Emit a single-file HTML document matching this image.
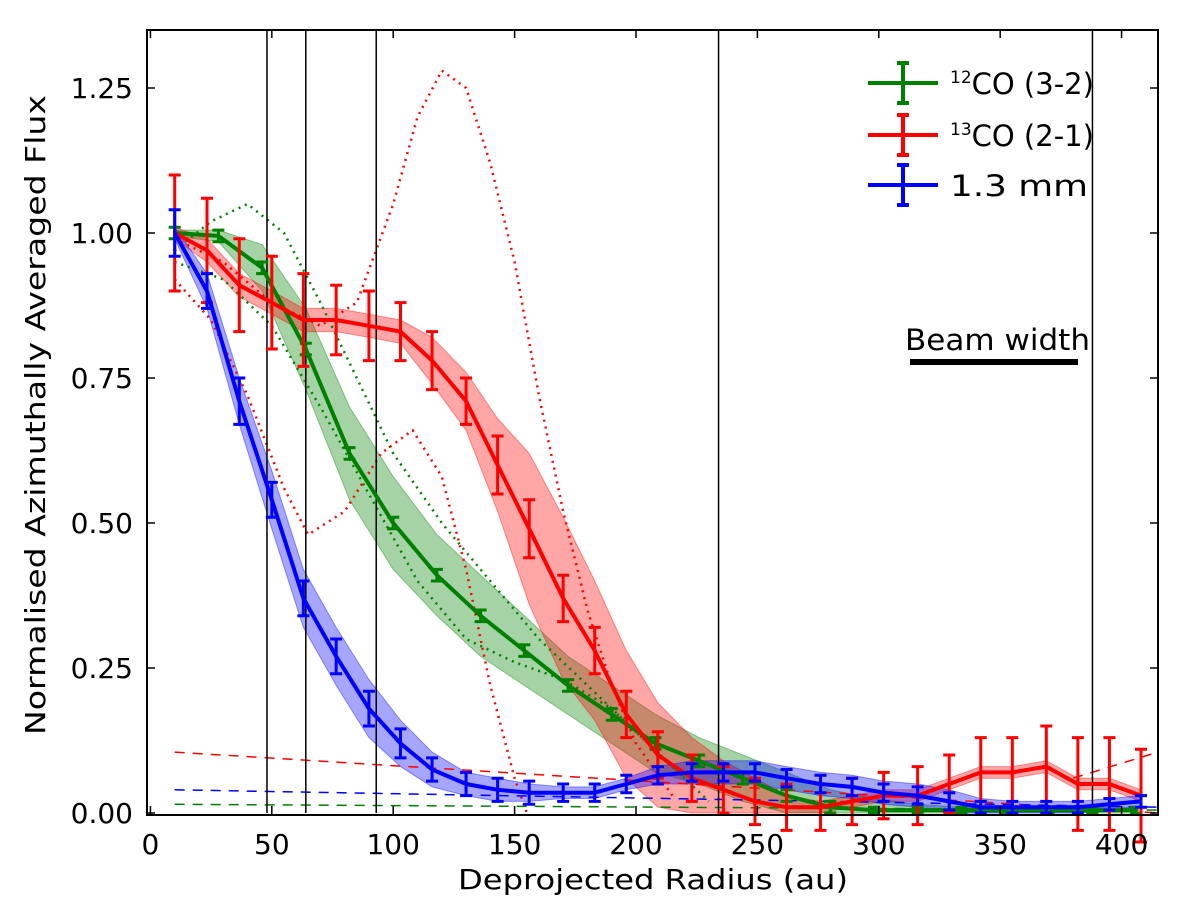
<!DOCTYPE html>
<html><head><meta charset="utf-8"><style>
body{margin:0;background:#fff;}
svg text{font-family:"DejaVu Sans","Liberation Sans",sans-serif;}
</style></head><body>
<svg id="chart" width="1200" height="910" xmlns="http://www.w3.org/2000/svg">
<g id="bands"></g><g id="guides"></g><g id="lines"></g><g id="axes"></g>
</svg>
<script>
const xTicks=[0,50,100,150,200,250,300,350,400];
const yTicks=[0,0.25,0.5,0.75,1.0,1.25];
const yTickLabels=["0.00","0.25","0.50","0.75","1.00","1.25"];
const vlines=[48,64,93,234,388];
const rR=[10,23.3,36.6,50,63,76.5,90,103,116,130,143,156,170,183,196,209,223,236,249,262,276,289,302,316,329,342,355,369,382,395,408];
const redV=[1.0,0.97,0.91,0.88,0.85,0.85,0.84,0.83,0.78,0.71,0.60,0.49,0.37,0.28,0.17,0.10,0.06,0.04,0.02,0.01,0.01,0.02,0.03,0.03,0.05,0.07,0.07,0.08,0.05,0.05,0.03];
const redE=[0.10,0.09,0.08,0.08,0.08,0.06,0.06,0.05,0.05,0.04,0.05,0.05,0.04,0.04,0.04,0.04,0.04,0.04,0.04,0.04,0.04,0.04,0.04,0.05,0.05,0.06,0.06,0.07,0.08,0.08,0.08];
const redB=[0.01,0.02,0.02,0.02,0.02,0.02,0.02,0.02,0.04,0.05,0.08,0.13,0.14,0.12,0.11,0.09,0.07,0.05,0.04,0.02,0.01,0.01,0.01,0.01,0.01,0.01,0.01,0.01,0.01,0.01,0.01];
const blueV=[1.0,0.90,0.71,0.54,0.37,0.27,0.18,0.12,0.075,0.05,0.04,0.035,0.035,0.035,0.05,0.065,0.07,0.07,0.07,0.06,0.05,0.045,0.035,0.03,0.02,0.01,0.01,0.01,0.01,0.015,0.02];
const blueE=[0.04,0.03,0.04,0.03,0.03,0.03,0.03,0.025,0.02,0.02,0.02,0.02,0.015,0.015,0.015,0.015,0.015,0.015,0.015,0.015,0.015,0.015,0.015,0.015,0.015,0.01,0.01,0.01,0.01,0.01,0.01];
const blueB=[0.01,0.03,0.04,0.05,0.05,0.05,0.05,0.04,0.03,0.02,0.02,0.015,0.01,0.01,0.01,0.015,0.02,0.02,0.02,0.02,0.02,0.02,0.02,0.02,0.02,0.015,0.01,0.01,0.01,0.01,0.01];
const rG=[10,28,46,64,82,100,118,136,154,172,190,208,226,244,262,280,298,316,334,352,370,388,406];
const greenV=[1.0,0.995,0.94,0.80,0.62,0.50,0.41,0.34,0.28,0.22,0.17,0.12,0.09,0.06,0.03,0.01,0.005,0.005,0.005,0.005,0.005,0.005,0.005];
const greenE=[0.01,0.01,0.01,0.01,0.01,0.01,0.01,0.01,0.01,0.01,0.01,0.01,0.01,0.01,0.01,0.01,0.005,0.005,0.005,0.005,0.005,0.005,0.005];
const greenB=[0.005,0.01,0.04,0.07,0.08,0.08,0.07,0.07,0.06,0.05,0.05,0.05,0.04,0.04,0.04,0.03,0.02,0.01,0.005,0.005,0.005,0.005,0.005];
const gDotUpR=[10,25,40,55,70,85,100,120,140,160,180,200,220];
const gDotUpV=[0.97,1.02,1.05,1.0,0.88,0.75,0.62,0.50,0.40,0.30,0.22,0.14,0.06];
const gDotLoR=[10,30,50,70,90,110,130,150,170,190,210,230];
const gDotLoV=[0.95,0.92,0.84,0.70,0.55,0.40,0.30,0.26,0.23,0.18,0.10,0.02];
const rDotUpR=[10,30,50,70,85,100,110,120,130,140,150,160,170,180,190,200,215];
const rDotUpV=[0.99,0.95,0.88,0.84,0.88,1.05,1.20,1.28,1.25,1.12,0.95,0.72,0.52,0.35,0.22,0.12,0.03];
const rDotLoR=[10,25,40,55,65,80,95,108,120,130,140,150,155];
const rDotLoV=[0.92,0.85,0.72,0.56,0.48,0.52,0.62,0.66,0.58,0.42,0.22,0.06,0.0];
const dashR=[10,415];
const redDashV=[0.105,0.0];
const blueDashV=[0.04,0.01];
const greenDashV=[0.015,0.005];
const redDash2R=[380,415];const redDash2V=[0.06,0.105];

const X0=148,X1=1158,Y0=813,Y1=30,XMIN=-1,XMAX=415,YMAX=1.35;
const sx=r=>X0+(r-XMIN)/(XMAX-XMIN)*(X1-X0);
const sy=v=>Y0-v/YMAX*(Y0-Y1);
const NS="http://www.w3.org/2000/svg";
function mk(parent,tag,attrs){const e=document.createElementNS(NS,tag);for(const k in attrs)e.setAttribute(k,attrs[k]);document.getElementById(parent).appendChild(e);return e;}
function pts(rs,vs){return rs.map((r,i)=>sx(r).toFixed(1)+","+sy(vs[i]).toFixed(1)).join(" ");}
function band(rs,vs,bs,col,name){
 const up=rs.map((r,i)=>sx(r)+","+sy(vs[i]+bs[i]));
 const lo=rs.map((r,i)=>sx(r)+","+sy(Math.max(0,vs[i]-bs[i]))).reverse();
 const e=mk("bands","polygon",{points:up.concat(lo).join(" "),fill:col,"fill-opacity":0.35,stroke:col,"stroke-opacity":0.4});
 
 
}
band(rG,greenV,greenB,"#008000","band-12co");
band(rR,redV,redB,"#ff0000","band-13co");
band(rR,blueV,blueB,"#0000ff","band-1-3mm");
function poly(g,rs,vs,col,w,dash,name){const e=mk(g,"polyline",{points:pts(rs,vs),fill:"none",stroke:col,"stroke-width":w,"stroke-dasharray":dash||"none","stroke-linejoin":"round"});
 
 }
poly("guides",gDotUpR,gDotUpV,"#008000",2.5,"2 5","green-dotted-upper");
poly("guides",gDotLoR,gDotLoV,"#008000",2.5,"2 5","green-dotted-lower");
poly("guides",rDotUpR,rDotUpV,"#ff0000",2.5,"2 5","red-dotted-upper");
poly("guides",rDotLoR,rDotLoV,"#ff0000",2.5,"2 5","red-dotted-lower");
poly("guides",dashR,redDashV,"#ff0000",1.5,"10 8","red-dashed");
poly("guides",redDash2R,redDash2V,"#ff0000",1.5,"10 8","red-dashed-right");
poly("guides",dashR,blueDashV,"#0000ff",1.5,"10 8","blue-dashed");
poly("guides",dashR,greenDashV,"#008000",1.5,"10 8","green-dashed");
vlines.forEach(r=>{const e=mk("guides","line",{x1:sx(r),x2:sx(r),y1:Y1,y2:Y0,stroke:"#000","stroke-width":1.5});
 
 });
function series(rs,vs,es,col,name){
 poly("lines",rs,vs,col,4,null,name+"-line");
 rs.forEach((r,i)=>{const x=sx(r),a=sy(vs[i]+es[i]),b=sy(vs[i]-es[i]);
  const e=mk("lines","path",{d:`M${x},${a}V${b}M${x-6},${a}h12M${x-6},${b}h12`,stroke:col,"stroke-width":3,fill:"none"});
  
  });
}
series(rG,greenV,greenE,"#008000","12co");
series(rR,redV,redE,"#ff0000","13co");
series(rR,blueV,blueE,"#0000ff","1-3mm");
const fr=mk("axes","rect",{x:X0-1,y:Y1,width:X1-X0+1,height:Y0-Y1+2,fill:"none",stroke:"#000","stroke-width":2});

xTicks.forEach(t=>{const x=sx(t);
 mk("axes","path",{d:`M${x},${Y0+1}v-8M${x},${Y1}v8`,stroke:"#000","stroke-width":1.5});
 const e=mk("axes","text",{x:x,y:854,"text-anchor":"middle","font-size":28});e.textContent=t;
 });
yTicks.forEach((t,i)=>{const y=sy(t);
 mk("axes","path",{d:`M${X0-1},${y}h8M${X1},${y}h-8`,stroke:"#000","stroke-width":1.5});
 const e=mk("axes","text",{x:133,y:y+10,"text-anchor":"end","font-size":28});e.textContent=yTickLabels[i];
 });
</script>
<svg style="position:absolute;left:0;top:0" width="1200" height="910" xmlns="http://www.w3.org/2000/svg">
<text x="458" y="889" font-size="28" textLength="390" lengthAdjust="spacingAndGlyphs" font-family="DejaVu Sans, Liberation Sans, sans-serif">Deprojected Radius (au)</text>
<text transform="translate(45,735) rotate(-90)" font-size="28" textLength="640" lengthAdjust="spacingAndGlyphs" font-family="DejaVu Sans, Liberation Sans, sans-serif">Normalised Azimuthally Averaged Flux</text>
<g font-family="DejaVu Sans, Liberation Sans, sans-serif" font-size="29">
<g><path d="M868,83h70M903,63v40M897,63h12M897,103h12" stroke="#008000" stroke-width="4" fill="none"/><text x="950" y="94"><tspan font-size="17" dy="-11">12</tspan><tspan dy="11">CO (3-2)</tspan></text></g>
<g><path d="M868,135h70M903,115v40M897,115h12M897,155h12" stroke="#ff0000" stroke-width="4" fill="none"/><text x="950" y="146"><tspan font-size="17" dy="-11">13</tspan><tspan dy="11">CO (2-1)</tspan></text></g>
<g><path d="M868,185h70M903,165v40M897,165h12M897,205h12" stroke="#0000ff" stroke-width="4" fill="none"/><text x="950" y="196" textLength="138" lengthAdjust="spacingAndGlyphs">1.3 mm</text></g>
</g>
<text x="905" y="350" font-size="29" textLength="185" lengthAdjust="spacingAndGlyphs" font-family="DejaVu Sans, Liberation Sans, sans-serif">Beam width</text>
<rect x="910" y="359" width="168" height="6" fill="#000"/>
</svg>
</body></html>
